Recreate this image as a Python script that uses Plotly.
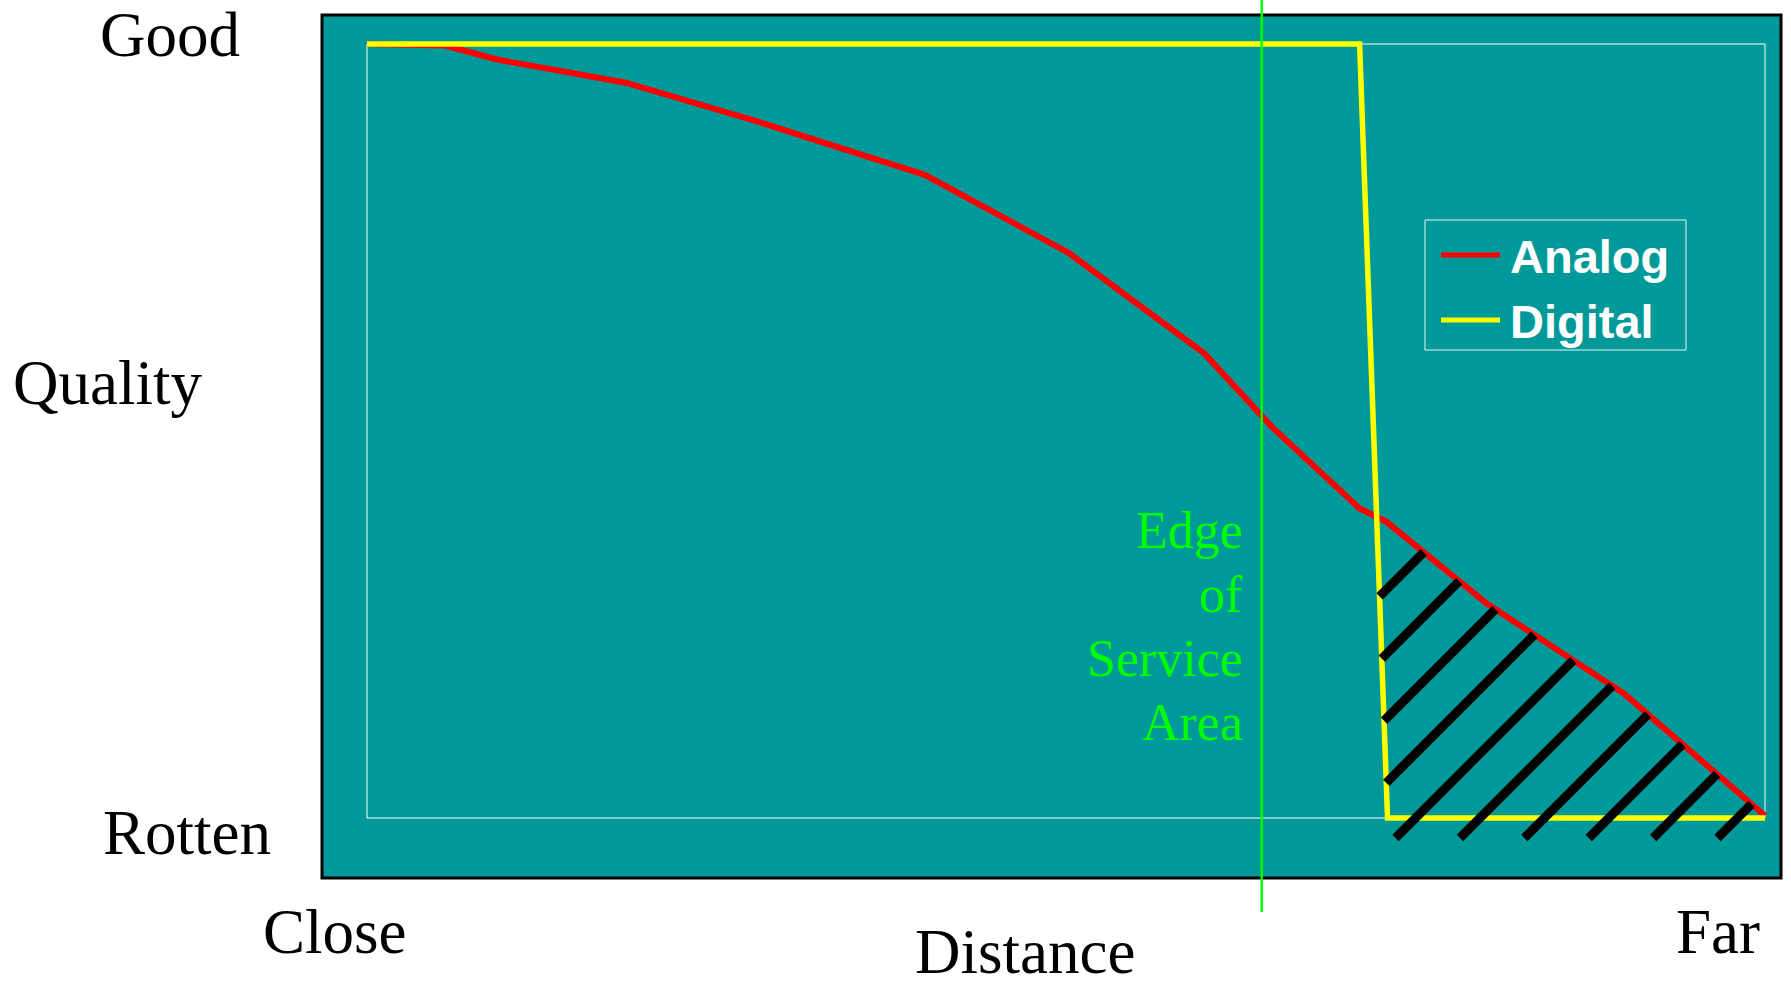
import plotly.graph_objects as go

# Reception quality versus distance from the transmitter
# x: 0 = close, 100 = far      y: 0 = rotten, 100 = good
analog_x = [0, 5.6, 9.3, 18.5, 27.9, 39.9, 50.2, 59.9, 64.8, 71.0, 72.9, 80.1, 89.9, 100]
analog_y = [100, 99.8, 98.0, 95.0, 90.0, 83.1, 73.0, 60.0, 50.4, 40.0, 38.3, 27.7, 16.1, 0.3]
digital_x = [0, 71.0, 73.0, 100]
digital_y = [100, 100, 0, 0]
edge_of_service_x = 64.0

series_names = ["Analog", "Digital"]
edge_label_lines = ["Edge", "of", "Service", "Area"]
quality_labels = ["Good", "Quality", "Rotten"]
distance_labels = ["Close", "Distance", "Far"]

# ---- styling -------------------------------------------------------------
TEAL = "#009999"
RED = "#FF0000"
YELLOW = "#FFFF00"
GREEN = "#00FF00"
SERIF = "Liberation Serif, Times New Roman, serif"
SANS = "Liberation Sans, Arial, sans-serif"

W, H = 1791, 986
ML, MR, MT, MB = 322, 10, 15, 108          # teal panel = plotting area
PW, PH = W - ML - MR, H - MT - MB
IL, IR, IT, IB = 45, 16, 29, 60            # inset of the white frame inside the panel
sx = (PW - IL - IR) / 100.0
sy = (PH - IT - IB) / 100.0
XR = [-IL / sx, 100 + IR / sx]
YR = [-IB / sy, 100 + IT / sy]


def to_px(x, y):
    return ML + (x - XR[0]) * sx, MT + (YR[1] - y) * sy


def to_data(px, py):
    return XR[0] + (px - ML) / sx, YR[1] - (py - MT) / sy


def paper_x(px):
    return (px - ML) / PW


def paper_y(py):
    return (H - MB - py) / PH


# ---- hatching between the digital cliff and the analog curve ----------------
HATCH_GAP = 64.4       # px between successive strokes (measured along x)
HATCH_BELOW = 20       # px the strokes run below the rotten level
HATCH_SHIFT = 8        # px from the cliff foot to the first full stroke


def cross(poly, c):
    """Point where the 45-degree line x + y = c (screen px) meets a polyline."""
    for (x0, y0), (x1, y1) in zip(poly[:-1], poly[1:]):
        f0, f1 = x0 + y0 - c, x1 + y1 - c
        if f0 == f1:
            continue
        if (f0 <= 0 <= f1) or (f1 <= 0 <= f0):
            t = f0 / (f0 - f1)
            return x0 + t * (x1 - x0), y0 + t * (y1 - y0)
    return None


analog_px = [to_px(x, y) for x, y in zip(analog_x, analog_y)]
cliff_top = to_px(digital_x[1], digital_y[1])
cliff_foot = to_px(digital_x[2], digital_y[2])
low_y = cliff_foot[1] + HATCH_BELOW
slope = (cliff_foot[0] - cliff_top[0]) / (cliff_foot[1] - cliff_top[1])
low_corner = (cliff_top[0] + slope * (low_y - cliff_top[1]), low_y)
lower_px = [cliff_top, low_corner, (ML + PW, low_y)]

c_ref = cliff_foot[0] + HATCH_SHIFT + low_y
hx, hy = [], []
for k in range(-4, 8):
    c = c_ref + k * HATCH_GAP
    a = cross(lower_px, c)
    b = cross(analog_px, c)
    if a is None or b is None or b[1] >= a[1]:
        continue
    for p in (a, b):
        dx, dy = to_data(*p)
        hx.append(dx)
        hy.append(dy)
    hx.append(None)
    hy.append(None)

# ---- traces -----------------------------------------------------------------
fig = go.Figure()
fig.add_trace(go.Scatter(x=analog_x, y=analog_y, mode="lines", name=series_names[0],
                         line=dict(color=RED, width=6), showlegend=False, hoverinfo="skip"))
fig.add_trace(go.Scatter(x=digital_x, y=digital_y, mode="lines", name=series_names[1],
                         line=dict(color=YELLOW, width=5.5), showlegend=False, hoverinfo="skip"))
fig.add_trace(go.Scatter(x=hx, y=hy, mode="lines", line=dict(color="black", width=9),
                         showlegend=False, hoverinfo="skip"))

shapes = [
    # white frame of the plotting region
    dict(type="rect", xref="x", yref="y", x0=0, y0=0, x1=100, y1=100,
         line=dict(color="white", width=1), layer="below"),
    # black border of the teal panel
    dict(type="rect", xref="paper", yref="paper", x0=0, y0=0, x1=1, y1=1,
         line=dict(color="black", width=3), layer="above"),
    # edge of service area marker
    dict(type="line", xref="paper", yref="paper",
         x0=paper_x(to_px(edge_of_service_x, 0)[0]), x1=paper_x(to_px(edge_of_service_x, 0)[0]),
         y0=paper_y(912), y1=paper_y(0), line=dict(color=GREEN, width=2.5), layer="above"),
    # legend box
    dict(type="rect", xref="paper", yref="paper", x0=paper_x(1425), x1=paper_x(1686),
         y0=paper_y(350), y1=paper_y(220), line=dict(color="#E6F4F4", width=1), layer="above"),
]

annotations = []


def label(text, px, py, size, color="black", family=SERIF, xanchor="center", bold=False):
    annotations.append(dict(
        text=f"<b>{text}</b>" if bold else text, xref="paper", yref="paper",
        x=paper_x(px), y=paper_y(py), xanchor=xanchor, yanchor="middle",
        showarrow=False, font=dict(family=family, size=size, color=color)))


# axis wording (baseline - 0.34 em gives the box centre)
label(quality_labels[0], 170, 35, 63)
label(quality_labels[1], 107, 383, 63)
label(quality_labels[2], 187, 833, 63)
label(distance_labels[0], 335, 932, 63)
label(distance_labels[1], 1025, 952, 63)
label(distance_labels[2], 1718, 932, 63)

for i, line in enumerate(edge_label_lines):
    label(line, 1245, 530.5 + 64 * i, 52, color=GREEN, xanchor="right")

# legend entries
for i, (name, col) in enumerate(zip(series_names, [RED, YELLOW])):
    yc = 255 + 65 * i
    shapes.append(dict(type="line", xref="paper", yref="paper",
                       x0=paper_x(1441), x1=paper_x(1500), y0=paper_y(yc), y1=paper_y(yc),
                       line=dict(color=col, width=5), layer="above"))
    label(name, 1508, yc + 1, 47, color="white", family=SANS, xanchor="left", bold=True)

axis_common = dict(showgrid=False, zeroline=False, showticklabels=False, ticks="",
                   showline=False, fixedrange=True)
fig.update_layout(
    width=W, height=H,
    margin=dict(l=ML, r=MR, t=MT, b=MB, autoexpand=False),
    paper_bgcolor="white", plot_bgcolor=TEAL,
    xaxis=dict(range=XR, **axis_common),
    yaxis=dict(range=YR, **axis_common),
    shapes=shapes, annotations=annotations, showlegend=False,
)

fig.write_html("out.html")
